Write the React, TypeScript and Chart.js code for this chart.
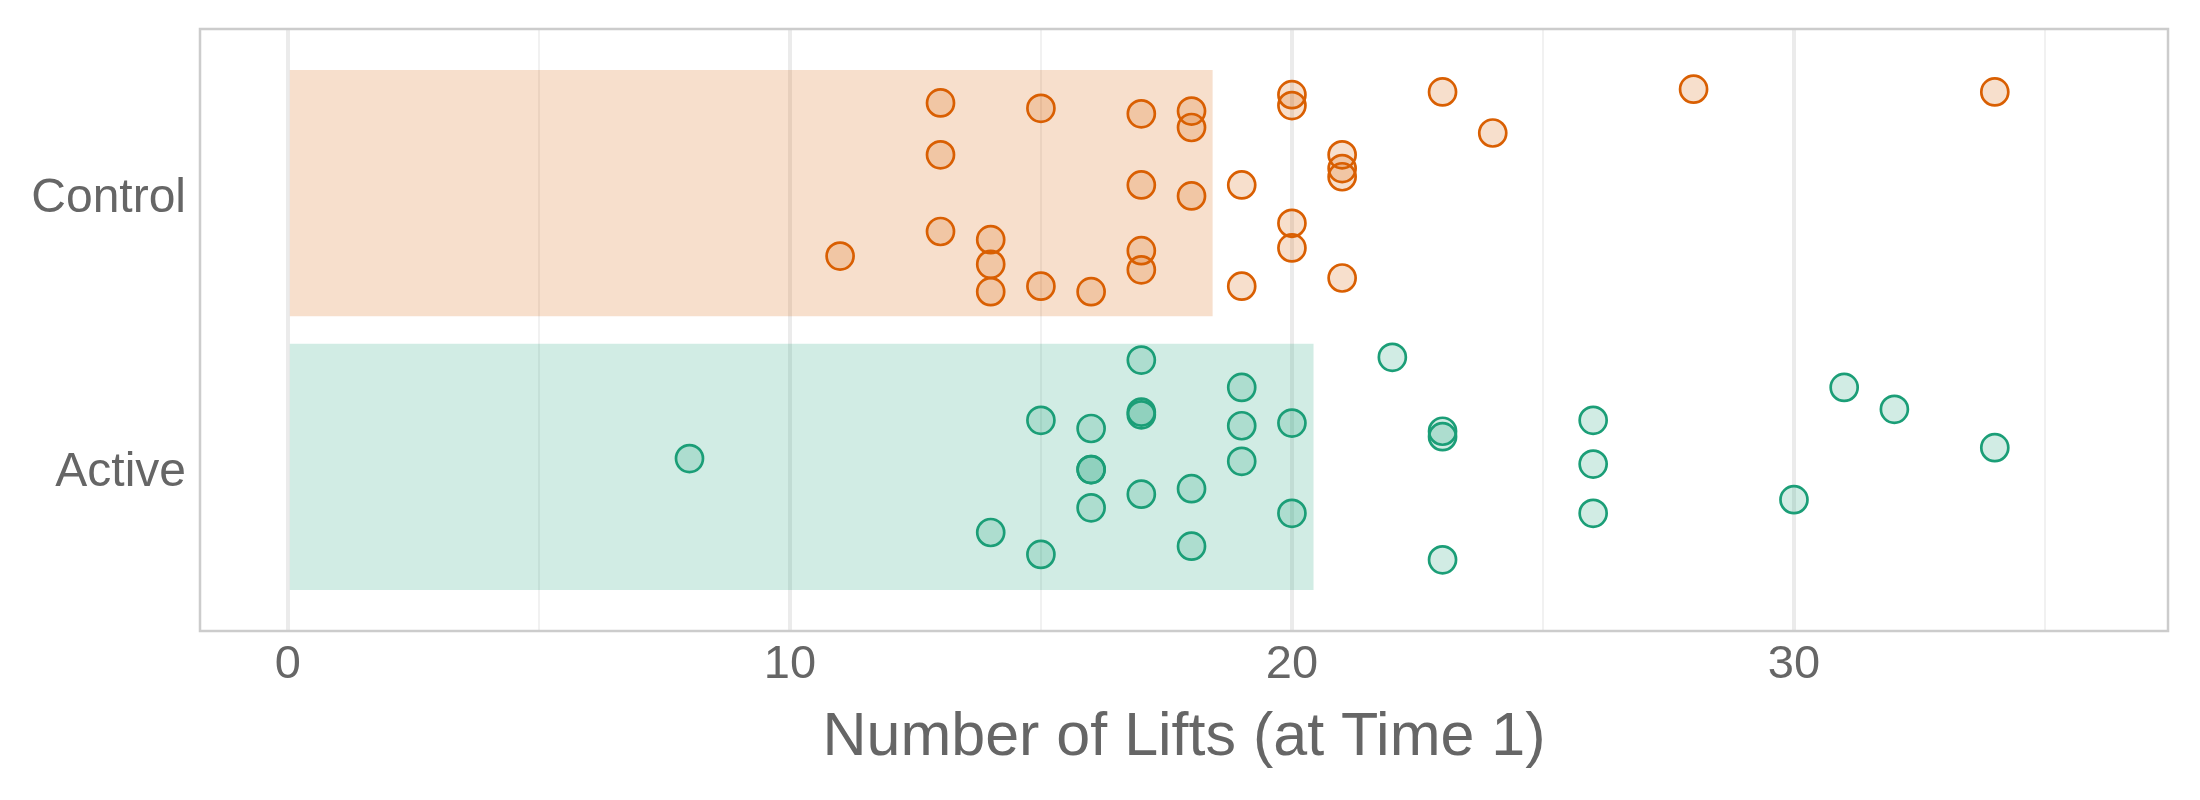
import React, { useEffect, useRef } from "react";
import { Chart, registerables } from "chart.js";

Chart.register(...registerables);

// ---- data ----
const groups = ["Active", "Control"]; // y positions 1, 2
const groupMeans = [20.43, 18.42];

const controlLifts = [11, 13, 13, 13, 14, 14, 14, 15, 15, 16, 17, 17, 17, 17, 18, 18, 18, 19, 19, 20, 20, 20, 20, 21, 21, 21, 21, 23, 24, 28, 34];
const controlJitter = [-0.23, 0.33, 0.14, -0.14, -0.17, -0.26, -0.36, 0.31, -0.34, -0.36, 0.29, 0.03, -0.21, -0.28, 0.3, 0.24, -0.01, 0.03, -0.34, 0.36, 0.32, -0.11, -0.2, 0.14, 0.09, 0.06, -0.31, 0.37, 0.22, 0.38, 0.37];

const activeLifts = [8, 14, 15, 15, 16, 16, 16, 16, 17, 17, 17, 17, 18, 18, 19, 19, 19, 20, 20, 22, 23, 23, 23, 26, 26, 26, 30, 31, 32, 34];
const activeJitter = [0.03, -0.24, 0.17, -0.32, 0.14, -0.01, -0.01, -0.15, 0.39, 0.2, 0.19, -0.1, -0.08, -0.29, 0.29, 0.15, 0.02, 0.16, -0.17, 0.4, 0.13, 0.11, -0.34, 0.17, 0.01, -0.17, -0.12, 0.29, 0.21, 0.07];

const xGridValues = [0, 5, 10, 15, 20, 25, 30, 35];
const xTickLabels = [0, 10, 20, 30];
const xTitle = "Number of Lifts (at Time 1)";

const ORANGE = "#D95F02";
const GREEN = "#1B9E77";
const ORANGE_FILL = "rgba(217,95,2,0.2)";
const GREEN_FILL = "rgba(27,158,119,0.2)";
const TEXT = "#666666";
const FONT = "'Liberation Sans', Arial, sans-serif";

const panelBorder = {
  id: "panelBorder",
  afterDatasetsDraw(chart: any) {
    const { ctx, chartArea } = chart;
    ctx.save();
    ctx.strokeStyle = "#CCCCCC";
    ctx.lineWidth = 2.5;
    ctx.strokeRect(chartArea.left, chartArea.top, chartArea.right - chartArea.left, chartArea.bottom - chartArea.top);
    ctx.restore();
  },
};

export default function App() {
  const ref = useRef<HTMLCanvasElement | null>(null);

  useEffect(() => {
    document.body.style.margin = "0";
    if (!ref.current) return;
    const chart = new Chart(ref.current, {
      data: {
        datasets: [
          {
            type: "bar",
            indexAxis: "y",
            data: [
              { x: groupMeans[0], y: 1 },
              { x: groupMeans[1], y: 2 },
            ],
            backgroundColor: [GREEN_FILL, ORANGE_FILL],
            borderWidth: 0,
            barPercentage: 0.9,
            categoryPercentage: 1,
            order: 3,
          } as any,
          {
            type: "scatter",
            data: activeLifts.map((v, i) => ({ x: v, y: 1 + activeJitter[i] })),
            backgroundColor: GREEN_FILL,
            borderColor: GREEN,
            borderWidth: 2.7,
            pointRadius: 13.5,
            order: 1,
          },
          {
            type: "scatter",
            data: controlLifts.map((v, i) => ({ x: v, y: 2 + controlJitter[i] })),
            backgroundColor: ORANGE_FILL,
            borderColor: ORANGE,
            borderWidth: 2.7,
            pointRadius: 13.5,
            order: 2,
          },
        ],
      },
      options: {
        animation: false,
        responsive: false,
        devicePixelRatio: 1,
        layout: { padding: { top: 29, right: 32, left: 0, bottom: 0 } },
        plugins: { legend: { display: false }, tooltip: { enabled: false } },
        scales: {
          x: {
            type: "linear",
            offset: false,
            min: -1.75,
            max: 37.45,
            afterBuildTicks: (s: any) => {
              s.ticks = xGridValues.map((v) => ({ value: v }));
            },
            afterFit: (s: any) => {
              s.height = 169;
              s.paddingLeft = 0;
              s.paddingRight = 0;
            },
            grid: {
              offset: false,
              drawTicks: false,
              color: (c: any) => (c.tick && xTickLabels.includes(c.tick.value) ? "#EBEBEB" : "#F1F1F1"),
              lineWidth: (c: any) => (c.tick && xTickLabels.includes(c.tick.value) ? 4 : 2),
            },
            border: { display: false },
            ticks: {
              color: TEXT,
              font: { family: FONT, size: 47 },
              padding: 6,
              maxRotation: 0,
              autoSkip: false,
              callback: (v: any) => (xTickLabels.includes(Number(v)) ? String(v) : ""),
            },
            title: {
              display: true,
              text: xTitle,
              color: TEXT,
              font: { family: FONT, size: 61 },
              padding: { top: 0, bottom: 25 },
            },
          },
          y: {
            type: "linear",
            offset: false,
            min: 0.4,
            max: 2.6,
            afterBuildTicks: (s: any) => {
              s.ticks = groups.map((_, i) => ({ value: i + 1 }));
            },
            afterFit: (s: any) => {
              s.width = 200;
              s.paddingTop = 0;
              s.paddingBottom = 0;
            },
            grid: { display: false, drawTicks: false, offset: false },
            border: { display: false },
            ticks: {
              color: TEXT,
              font: { family: FONT, size: 48 },
              padding: 14,
              labelOffset: 6,
              autoSkip: false,
              callback: (v: any) => groups[Number(v) - 1] ?? "",
            },
          },
        },
      },
      plugins: [panelBorder],
    });
    return () => chart.destroy();
  }, []);

  return <canvas ref={ref} width={2200} height={800} style={{ display: "block" }} />;
}
